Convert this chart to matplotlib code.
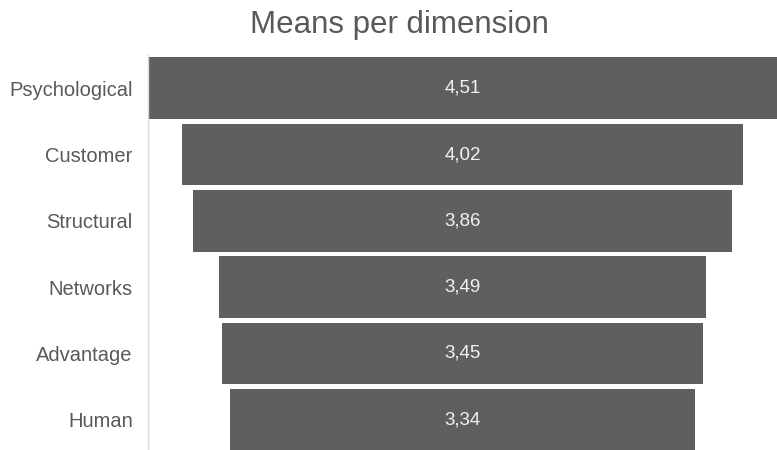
import numpy as np
import matplotlib.pyplot as plt

plt.rcParams['font.family'] = ['Liberation Sans', 'DejaVu Sans']

categories = ['Psychological', 'Customer', 'Structural', 'Networks', 'Advantage', 'Human']
means = [4.51, 4.02, 3.86, 3.49, 3.45, 3.34]
value_labels = ['4,51', '4,02', '3,86', '3,49', '3,45', '3,34']

fig = plt.figure(figsize=(7.77, 4.5), dpi=100)
ax = fig.add_axes([148 / 777, -3 / 450, 629 / 777, 398 / 450])

top = max(means)
y = np.arange(len(categories))
lefts = [(top - m) / 2 for m in means]
ax.barh(y, means, left=lefts, height=0.93, color='#5f5f5f', edgecolor='none')

for yi, lab, l, m in zip(y, value_labels, lefts, means):
    ax.text(l + m / 2, yi, lab, ha='center', va='center', color='#f2f2f2', fontsize=13.5)

ax.set_xlim(0, top)
ax.set_ylim(len(categories) - 0.5, -0.5)
ax.set_yticks(y)
ax.set_yticklabels(categories, fontsize=14.5, color='#595959')
ax.tick_params(axis='y', length=0, pad=11)
ax.set_xticks([])
for s in ['top', 'right', 'bottom']:
    ax.spines[s].set_visible(False)
ax.spines['left'].set_color('#d9d9d9')
ax.spines['left'].set_linewidth(1)

fig.text(399 / 777, 1 - 25 / 450, 'Means per dimension', ha='center', va='center',
         fontsize=22.5, color='#595959')

fig.savefig('out.png', dpi=100)
